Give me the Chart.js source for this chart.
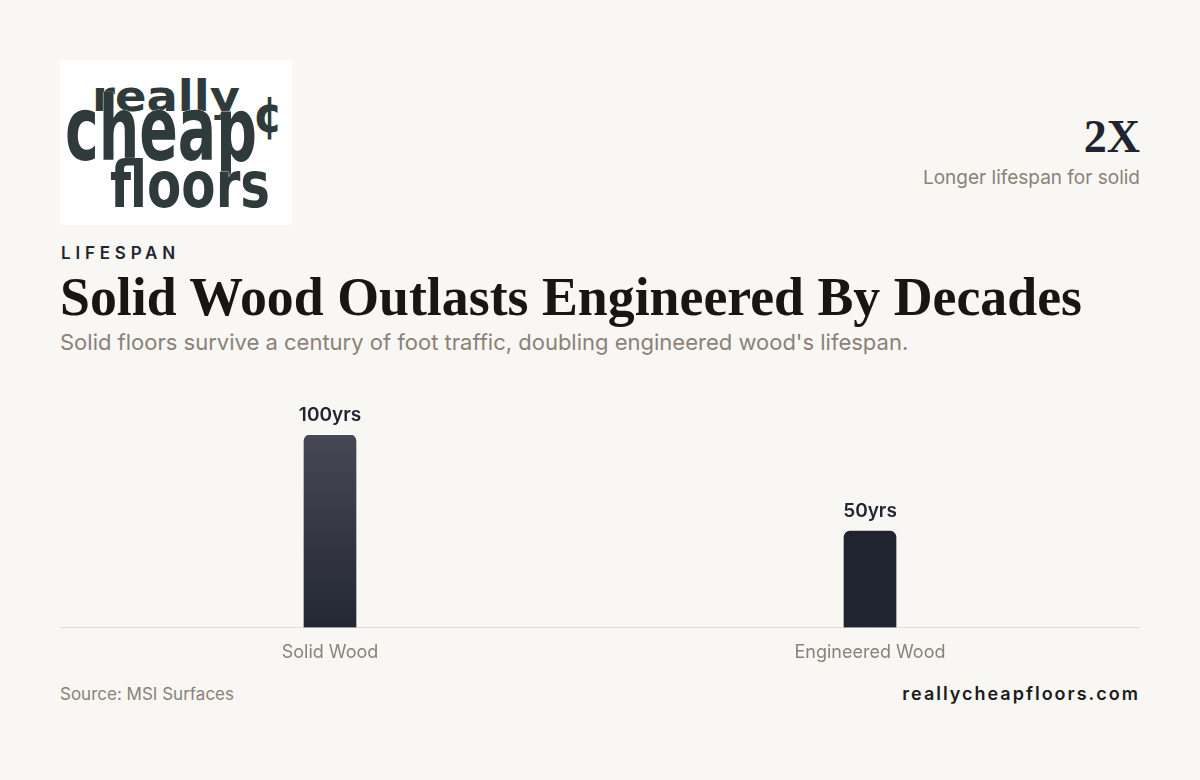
<!DOCTYPE html>
<html>
<head>
<meta charset="utf-8">
<script src="https://cdn.jsdelivr.net/npm/chart.js@4.4.1/dist/chart.umd.min.js"></script>
<style>
  html, body { margin: 0; padding: 0; }
  body { width: 1200px; height: 780px; background: #f8f7f3; position: relative; overflow: hidden; font-family: Inter, 'Noto Sans', sans-serif; }
  .logo { position: absolute; left: 60px; top: 60px; width: 232px; height: 165px; background: #fff; overflow: hidden; }
  .logo span { position: absolute; font-family: 'DejaVu Sans', sans-serif; font-weight: bold; color: #2f3a3a; line-height: 1; white-space: nowrap; transform-origin: left top; text-shadow: 0 0 1px #fff, 0 0 1px #fff; }
  .stat { position: absolute; right: 60px; top: 112px; text-align: right; }
  .stat .big { font-family: 'Liberation Serif', 'DejaVu Serif', serif; font-weight: bold; font-size: 46px; color: #1f2430; line-height: 50px; }
  .stat .small { font-size: 19px; color: #8a8178; margin-top: 4px; }
  .kicker { position: absolute; left: 61px; top: 243px; font-size: 17px; font-weight: 600; letter-spacing: 4.8px; color: #1f2430; }
  .title { position: absolute; left: 60px; top: 266px; font-family: 'Liberation Serif', 'DejaVu Serif', serif; font-weight: bold; font-size: 54px; color: #181614; white-space: nowrap; transform-origin: left top; }
  .sub { position: absolute; left: 60px; top: 329px; font-size: 22px; color: #8a8178; }
  .chart-wrap { position: absolute; left: 60px; top: 380px; width: 1080px; height: 297px; }
  .source { position: absolute; left: 60px; top: 684px; font-size: 17px; color: #8a8178; }
  .site { position: absolute; right: 60px; top: 683px; font-size: 18px; font-weight: 600; letter-spacing: 2px; color: #1b1b1b; }
</style>
</head>
<body>
<div class="logo">
  <span class="lg" data-w="148" style="left:32px;top:16px;font-size:42px">really</span>
  <span class="lg" data-w="192" style="left:5px;top:25px;font-size:89px">cheap</span>
  <span class="lg" data-w="30" style="left:193px;top:30px;font-size:50px">¢</span>
  <span class="lg" data-w="160" style="left:50px;top:93px;font-size:64px">floors</span>
</div>
<div class="stat">
  <div class="big">2X</div>
  <div class="small">Longer lifespan for solid</div>
</div>
<div class="kicker">LIFESPAN</div>
<div class="title" id="title">Solid Wood Outlasts Engineered By Decades</div>
<div class="sub">Solid floors survive a century of foot traffic, doubling engineered wood's lifespan.</div>
<div class="chart-wrap"><canvas id="chart"></canvas></div>
<div class="source">Source: MSI Surfaces</div>
<div class="site">reallycheapfloors.com</div>

<script>
'use strict';

// ─── Data ─────────────────────────────────────────────────────────────────────

const categories = ['Solid Wood', 'Engineered Wood'];
const lifespanYears = [100, 50];
const valueLabels = ['100yrs', '50yrs'];

// ─── Text fitting ─────────────────────────────────────────────────────────────

const titleEl = document.getElementById('title');
const titleW = titleEl.getBoundingClientRect().width;
titleEl.style.transform = `scaleX(${1022 / titleW})`;

document.querySelectorAll('.logo .lg').forEach((el) => {
  const w = el.getBoundingClientRect().width;
  el.style.transform = `scaleX(${Number(el.dataset.w) / w})`;
});

// ─── Value labels plugin ──────────────────────────────────────────────────────

const valueLabelPlugin = {
  id: 'valueLabels',
  afterDatasetsDraw(chart) {
    const { ctx } = chart;
    const meta = chart.getDatasetMeta(0);
    ctx.save();
    ctx.font = '600 19px Inter, sans-serif';
    ctx.fillStyle = '#1f2430';
    ctx.textAlign = 'center';
    ctx.textBaseline = 'alphabetic';
    meta.data.forEach((bar, i) => {
      ctx.fillText(valueLabels[i], bar.x, bar.y - 14);
    });
    ctx.restore();
  },
};

function barColor(context) {
  const { chart, dataIndex } = context;
  const area = chart.chartArea;
  if (!area) return '#1f2430';
  if (dataIndex === 0) {
    const g = chart.ctx.createLinearGradient(0, area.top, 0, area.bottom);
    g.addColorStop(0, '#464853');
    g.addColorStop(1, '#242833');
    return g;
  }
  return '#1f2430';
}

new Chart(document.getElementById('chart'), {
  type: 'bar',
  data: {
    labels: categories,
    datasets: [{
      data: lifespanYears,
      backgroundColor: barColor,
      barThickness: 52,
      borderRadius: { topLeft: 6, topRight: 6 },
      borderSkipped: 'bottom',
    }],
  },
  options: {
    responsive: true,
    maintainAspectRatio: false,
    animation: false,
    layout: { padding: { top: 55, left: 0, right: 0, bottom: 0 } },
    plugins: { legend: { display: false }, tooltip: { enabled: false } },
    scales: {
      x: {
        grid: { display: false, drawTicks: false },
        border: { color: '#e2ded6', width: 1 },
        ticks: { color: '#8a8178', font: { family: 'Inter', size: 18 }, padding: 14 },
      },
      y: {
        display: false,
        beginAtZero: true,
        min: 0,
        max: 100,
      },
    },
  },
  plugins: [valueLabelPlugin],
});
</script>
</body>
</html>
